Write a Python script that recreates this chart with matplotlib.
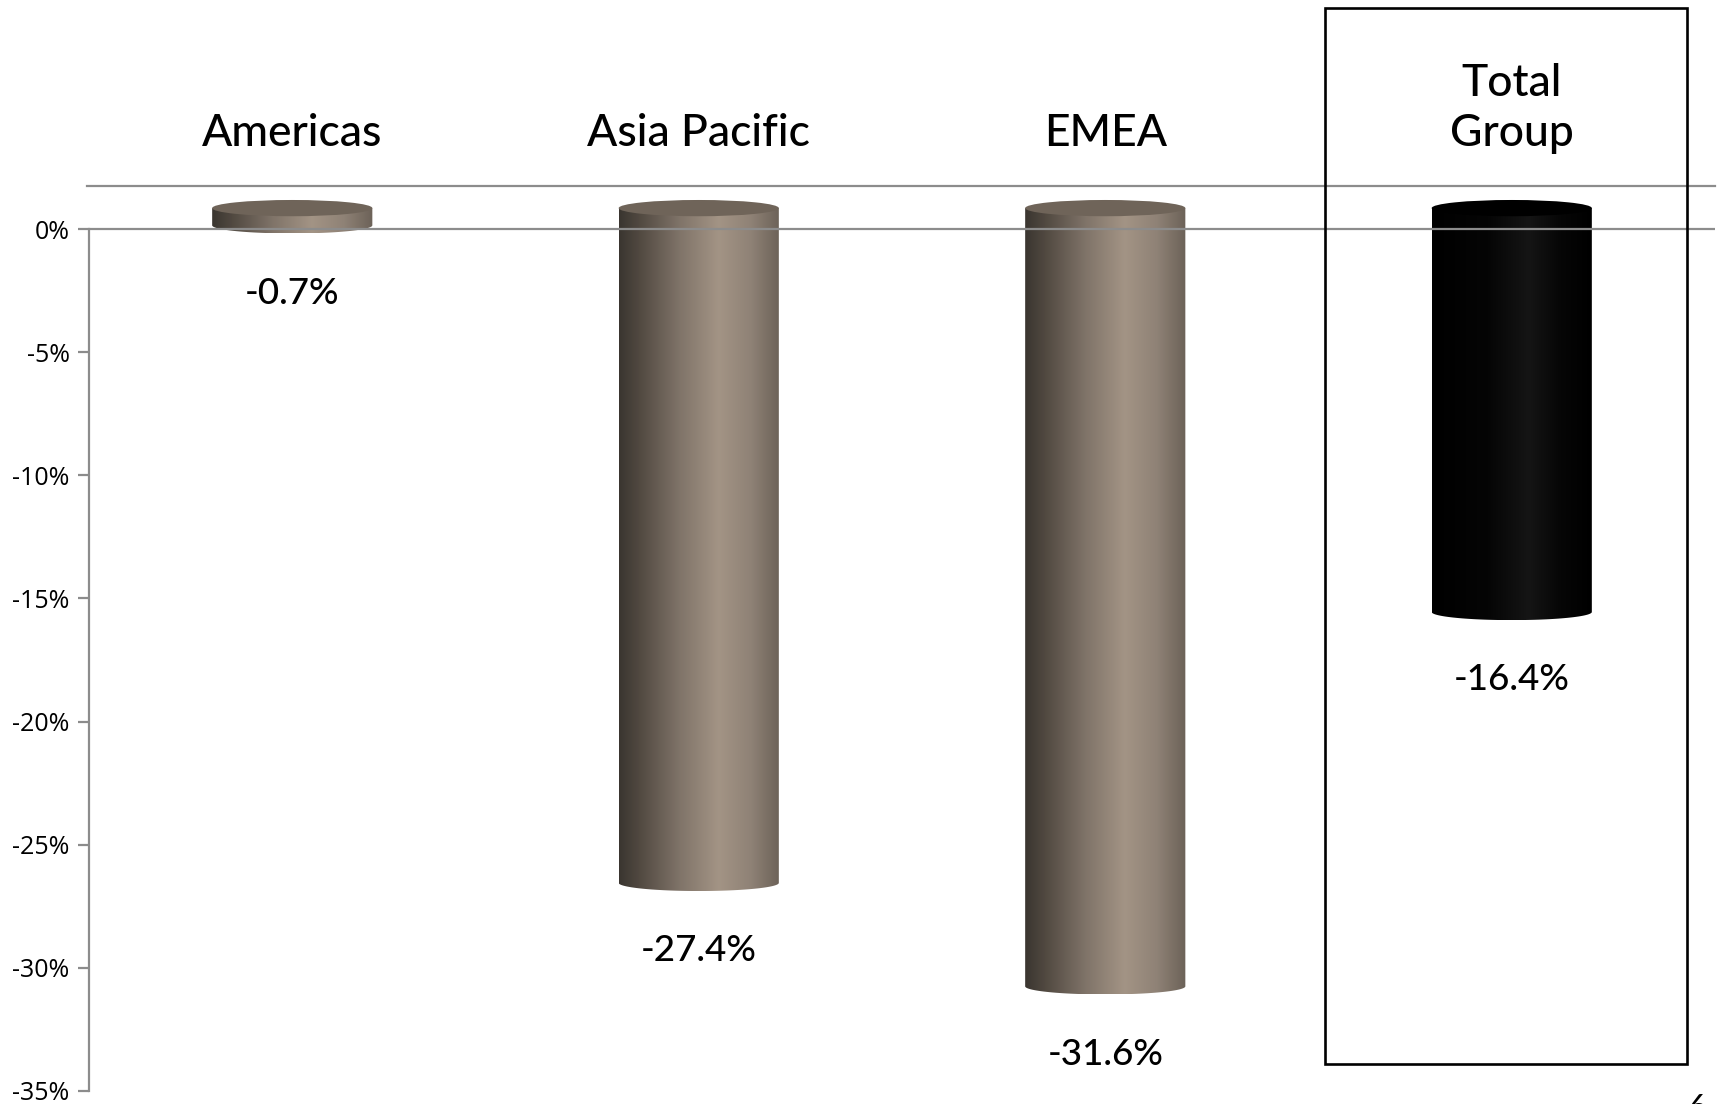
import numpy as np
import matplotlib
matplotlib.use("Agg")
import matplotlib.pyplot as plt
from matplotlib.colors import LinearSegmentedColormap
from matplotlib.patches import PathPatch, Ellipse, Rectangle
from matplotlib.path import Path

categories = ["Americas", "Asia Pacific", "EMEA", "Total\nGroup"]
values = [-0.7, -27.4, -31.6, -16.4]
labels = ["-0.7%", "-27.4%", "-31.6%", "-16.4%"]
yticks = [0, -5, -10, -15, -20, -25, -30, -35]

W, H = 1718, 1104
fig = plt.figure(figsize=(W / 100, H / 100), dpi=100)
ax = fig.add_axes([89 / W, 13 / H, (1715 - 89) / W, 1091 / H])

ax.set_xlim(-0.5, 3.5)
ax.set_ylim(-35, 9.3)

grey_cmap = LinearSegmentedColormap.from_list("cyl", [
    (0.0, "#3a3530"), (0.12, "#504840"), (0.38, "#807469"),
    (0.62, "#a39485"), (0.82, "#8f8276"), (1.0, "#6c6258")])
black_cmap = LinearSegmentedColormap.from_list("cylk", [
    (0.0, "#000000"), (0.35, "#050505"), (0.6, "#151515"),
    (0.8, "#060606"), (1.0, "#000000")])

hw = 0.197     # half width of cylinder (category units)
eh = 0.33      # half height of ellipse (percent units)
shift = 0.85   # 3d offset of the cylinders
grad = np.linspace(0, 1, 256).reshape(1, -1)

for i, v in enumerate(values):
    cmap = black_cmap if i == 3 else grey_cmap
    top = shift
    bot = v + shift
    t = np.linspace(np.pi, 2 * np.pi, 60)
    verts = [(i - hw, top), (i - hw, bot)]
    verts += list(zip(i + hw * np.cos(t), bot + eh * np.sin(t)))
    verts += [(i + hw, top), (i - hw, top)]
    codes = [Path.MOVETO] + [Path.LINETO] * (len(verts) - 2) + [Path.CLOSEPOLY]
    body = PathPatch(Path(verts, codes), facecolor="none", edgecolor="none")
    ax.add_patch(body)
    im = ax.imshow(grad, cmap=cmap, aspect="auto",
                   extent=(i - hw, i + hw, bot - eh, top), zorder=2)
    im.set_clip_path(body)
    topc = "#000000" if i == 3 else "#6f6459"
    ax.add_patch(Ellipse((i, top), 2 * hw, 2 * eh, facecolor=topc,
                         edgecolor="none", zorder=3))
    ax.text(i, v - 1.9, labels[i], ha="center", va="center",
            fontsize=26.5, family="Lato", fontweight="medium", color="black")
    ax.text(i, 3.37, categories[i], ha="center", va="baseline",
            fontsize=32, family="Lato", fontweight="medium", color="black",
            linespacing=1.28)

ax.set_xlim(-0.5, 3.5)
ax.set_ylim(-35, 9.3)

ax.axhline(0, color="#8c8c8c", lw=1.6, zorder=4)
ax.axhline(1.75, xmin=-0.001, color="#8c8c8c", lw=1.6, zorder=1, clip_on=False)

for s in ["top", "right", "bottom"]:
    ax.spines[s].set_visible(False)
ax.spines["left"].set_color("#8c8c8c")
ax.spines["left"].set_linewidth(1.6)
ax.spines["left"].set_bounds(-35, 0)
ax.set_xticks([])
ax.set_yticks(yticks)
ax.set_yticklabels([f"{t}%" for t in yticks], family="Open Sans", fontsize=18)
ax.tick_params(axis="y", length=8, width=1.6, color="#8c8c8c", pad=6)
ax.patch.set_alpha(0)

fig.patches.append(Rectangle((1325 / W, (H - 1064) / H), 362 / W, 1056 / H,
                             transform=fig.transFigure, fill=False,
                             edgecolor="black", lw=1.9))
fig.text(1697 / W, (H - 1094) / H, "6", ha="center", va="top",
         fontsize=24, family="Lato")

fig.savefig("out.png", dpi=100)
